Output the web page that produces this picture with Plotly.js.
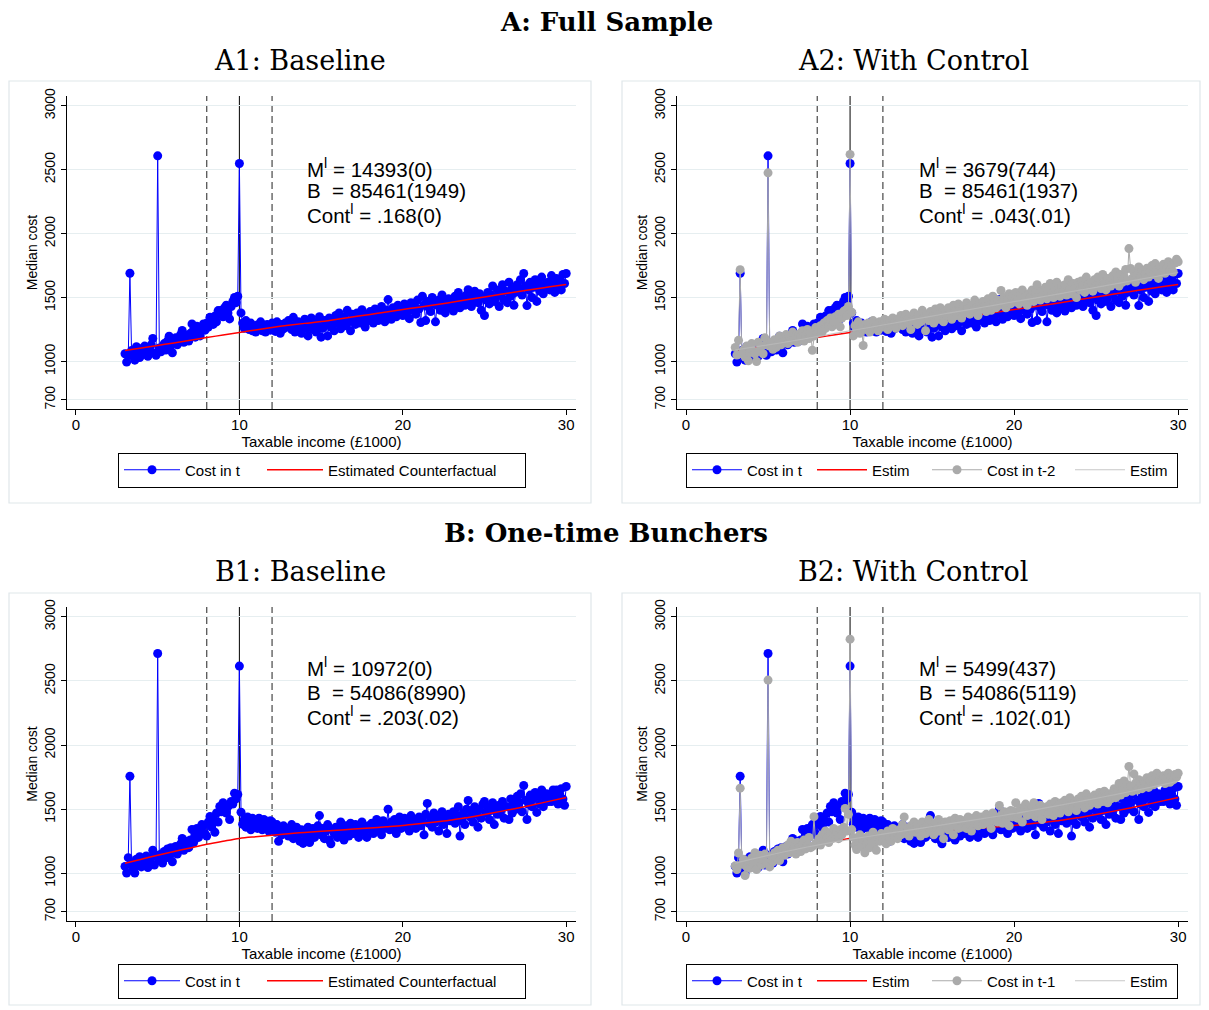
<!DOCTYPE html>
<html><head><meta charset="utf-8">
<script src="https://cdn.plot.ly/plotly-3.0.1.min.js"></script>
<style>html,body{margin:0;padding:0;background:#fff}</style>
</head><body><div id="chart" style="width:1209px;height:1010px"></div>
<script>
// Taxable income bins (£1000)
const incomeX = [
3.0,3.1,3.2,3.3,3.4,3.5,3.6,3.7,3.8,3.9,
4.0,4.1,4.2,4.3,4.4,4.5,4.6,4.7,4.8,4.9,
5.0,5.1,5.2,5.3,5.4,5.5,5.6,5.7,5.8,5.9,
6.0,6.1,6.2,6.3,6.4,6.5,6.6,6.7,6.8,6.9,
7.0,7.1,7.2,7.3,7.4,7.5,7.6,7.7,7.8,7.9,
8.0,8.1,8.2,8.3,8.4,8.5,8.6,8.7,8.8,8.9,
9.0,9.1,9.2,9.3,9.4,9.5,9.6,9.7,9.8,9.9,
10.0,10.1,10.2,10.3,10.4,10.5,10.6,10.7,10.8,10.9,
11.0,11.1,11.2,11.3,11.4,11.5,11.6,11.7,11.8,11.9,
12.0,12.1,12.2,12.3,12.4,12.5,12.6,12.7,12.8,12.9,
13.0,13.1,13.2,13.3,13.4,13.5,13.6,13.7,13.8,13.9,
14.0,14.1,14.2,14.3,14.4,14.5,14.6,14.7,14.8,14.9,
15.0,15.1,15.2,15.3,15.4,15.5,15.6,15.7,15.8,15.9,
16.0,16.1,16.2,16.3,16.4,16.5,16.6,16.7,16.8,16.9,
17.0,17.1,17.2,17.3,17.4,17.5,17.6,17.7,17.8,17.9,
18.0,18.1,18.2,18.3,18.4,18.5,18.6,18.7,18.8,18.9,
19.0,19.1,19.2,19.3,19.4,19.5,19.6,19.7,19.8,19.9,
20.0,20.1,20.2,20.3,20.4,20.5,20.6,20.7,20.8,20.9,
21.0,21.1,21.2,21.3,21.4,21.5,21.6,21.7,21.8,21.9,
22.0,22.1,22.2,22.3,22.4,22.5,22.6,22.7,22.8,22.9,
23.0,23.1,23.2,23.3,23.4,23.5,23.6,23.7,23.8,23.9,
24.0,24.1,24.2,24.3,24.4,24.5,24.6,24.7,24.8,24.9,
25.0,25.1,25.2,25.3,25.4,25.5,25.6,25.7,25.8,25.9,
26.0,26.1,26.2,26.3,26.4,26.5,26.6,26.7,26.8,26.9,
27.0,27.1,27.2,27.3,27.4,27.5,27.6,27.7,27.8,27.9,
28.0,28.1,28.2,28.3,28.4,28.5,28.6,28.7,28.8,28.9,
29.0,29.1,29.2,29.3,29.4,29.5,29.6,29.7,29.8,29.9,
30.0];

// Panel A (full sample): median cost in t
const costA_t = [
1060,995,1050,1690,1085,1040,1010,1115,1070,1030,
1100,1055,1120,1080,1040,1095,1130,1180,1065,1048,
2609,1105,1075,1112,1140,1090,1160,1198,1120,1068,
1150,1185,1130,1165,1210,1242,1150,1175,1205,1160,
1220,1294,1250,1190,1275,1230,1200,1260,1294,1245,
1300,1270,1346,1320,1290,1355,1310,1398,1380,1400,
1350,1420,1440,1380,1333,1430,1470,1500,1460,1510,
2549,1380,1300,1260,1320,1280,1250,1300,1240,1270,
1230,1285,1255,1310,1240,1275,1230,1290,1260,1245,
1300,1265,1235,1310,1280,1220,1290,1255,1300,1270,
1320,1280,1250,1345,1230,1290,1310,1260,1220,1300,
1330,1260,1200,1295,1340,1250,1305,1230,1280,1350,
1190,1260,1320,1290,1200,1340,1270,1310,1240,1360,
1300,1380,1255,1320,1350,1280,1400,1310,1240,1370,
1330,1290,1380,1350,1300,1405,1340,1270,1360,1320,
1390,1340,1300,1410,1365,1320,1380,1430,1350,1310,
1400,1484,1370,1330,1420,1390,1350,1440,1380,1410,
1360,1450,1420,1390,1335,1460,1400,1430,1370,1480,
1410,1305,1510,1440,1320,1470,1420,1390,1500,1450,
1310,1440,1480,1400,1520,1460,1380,1430,1490,1420,
1470,1395,1510,1450,1540,1420,1480,1500,1440,1520,
1562,1470,1430,1510,1550,1490,1460,1530,1400,1500,
1360,1480,1540,1450,1520,1590,1470,1500,1560,1430,
1530,1600,1480,1550,1460,1620,1510,1570,1440,1540,
1600,1560,1640,1520,1688,1590,1437,1560,1620,1500,
1580,1640,1470,1610,1550,1660,1530,1600,1570,1620,
1560,1672,1600,1540,1650,1590,1630,1560,1680,1610,
1688];

// Panel A2 control: median cost in t-2
const costA_tm2 = [
1110,1050,1165,1718,1060,1090,1035,1120,1005,1070,
1140,1080,1060,1000,1150,1090,1120,1060,1185,1130,
2476,1120,1150,1095,1170,1110,1140,1200,1130,1165,
1180,1210,1140,1195,1160,1230,1175,1200,1150,1215,
1190,1240,1160,1210,1250,1180,1225,1088,1200,1265,
1220,1250,1280,1230,1300,1260,1320,1280,1340,1271,
1310,1350,1300,1370,1271,1340,1390,1400,1360,1430,
2620,1385,1200,1280,1240,1310,1220,1260,1125,1290,
1250,1300,1230,1275,1320,1260,1290,1240,1310,1280,
1270,1330,1290,1250,1320,1280,1340,1300,1260,1330,
1310,1360,1280,1330,1370,1300,1345,1250,1320,1380,
1330,1290,1360,1310,1400,1340,1240,1370,1320,1390,
1350,1300,1410,1360,1330,1420,1380,1310,1400,1360,
1420,1370,1330,1440,1390,1360,1450,1400,1340,1430,
1380,1460,1410,1370,1440,1400,1480,1420,1360,1450,
1410,1470,1430,1390,1490,1440,1400,1510,1450,1420,
1480,1440,1555,1460,1500,1420,1490,1530,1450,1510,
1470,1540,1490,1450,1520,1560,1480,1510,1440,1530,
1500,1560,1470,1540,1600,1510,1480,1550,1520,1580,
1490,1560,1610,1530,1500,1570,1620,1540,1510,1590,
1550,1600,1520,1640,1570,1530,1610,1580,1500,1620,
1560,1630,1590,1540,1660,1600,1570,1620,1550,1640,
1590,1660,1600,1570,1680,1620,1560,1650,1610,1590,
1670,1610,1700,1640,1590,1680,1620,1660,1720,1630,
1883,1727,1650,1700,1620,1680,1740,1660,1710,1640,
1690,1730,1660,1700,1750,1680,1766,1710,1650,1740,
1700,1760,1690,1730,1780,1710,1750,1700,1770,1800,
1780];

// Panel B (one-time bunchers): median cost in t
const costB_t = [
1054,1002,1122,1757,1080,1040,1002,1110,1060,1130,
1050,1100,1075,1135,1045,1090,1120,1180,1065,1140,
2714,1100,1150,1080,1170,1120,1190,1140,1200,1090,
1160,1210,1150,1190,1230,1272,1180,1220,1250,1200,
1260,1342,1240,1300,1350,1280,1320,1380,1370,1310,
1290,1400,1444,1360,1420,1320,1470,1400,1522,1480,
1550,1500,1470,1520,1420,1560,1540,1624,1580,1615,
2616,1477,1383,1420,1360,1440,1400,1340,1430,1380,
1410,1350,1430,1390,1340,1420,1370,1400,1330,1410,
1400,1360,1320,1380,1250,1340,1300,1370,1310,1350,
1290,1340,1380,1270,1320,1360,1300,1250,1340,1233,
1330,1290,1360,1240,1310,1350,1280,1320,1370,1450,
1300,1350,1270,1330,1380,1260,1230,1340,1310,1360,
1280,1350,1400,1310,1260,1370,1330,1290,1390,1340,
1310,1380,1330,1280,1360,1400,1320,1350,1280,1370,
1340,1390,1310,1360,1420,1330,1380,1300,1410,1350,
1370,1500,1340,1400,1360,1420,1310,1390,1440,1350,
1380,1430,1360,1410,1330,1450,1390,1420,1350,1400,
1440,1370,1410,1300,1460,1545,1390,1430,1360,1470,
1400,1450,1330,1420,1480,1380,1440,1310,1460,1410,
1430,1480,1390,1450,1520,1290,1410,1470,1380,1500,
1568,1440,1490,1400,1520,1460,1360,1500,1430,1540,
1560,1470,1520,1420,1490,1550,1380,1500,1460,1530,
1490,1560,1430,1520,1520,1420,1580,1470,1540,1500,
1600,1550,1620,1480,1685,1570,1420,1540,1610,1520,
1580,1630,1475,1600,1540,1650,1520,1590,1620,1560,
1610,1560,1650,1590,1650,1540,1620,1660,1580,1530,
1677];

// Panel B2 control: median cost in t-1
const costB_tm1 = [
1058,1030,1158,1664,1070,1110,983,1050,1090,1040,
1120,1070,1160,1030,1100,1140,1065,1110,1150,1080,
2507,1050,1130,1090,1160,1120,1180,1100,1150,1200,
1140,1190,1220,1160,1250,1180,1210,1150,1240,1200,
1170,1230,1260,1190,1220,1280,1200,1210,1442,1230,
1240,1270,1220,1300,1260,1330,1280,1240,1310,1270,
1350,1290,1320,1270,1340,1300,1360,1506,1330,1460,
2826,1341,1280,1220,1185,1250,1300,1210,1260,1160,
1230,1290,1200,1270,1320,1240,1180,1280,1250,1310,
1260,1300,1230,1330,1280,1250,1350,1290,1320,1270,
1340,1300,1380,1440,1310,1350,1290,1370,1330,1400,
1320,1380,1340,1290,1400,1350,1310,1370,1420,1330,
1360,1300,1390,1350,1420,1330,1380,1270,1400,1360,
1340,1410,1370,1300,1430,1380,1350,1420,1360,1390,
1410,1350,1440,1380,1330,1430,1390,1450,1370,1400,
1440,1380,1420,1460,1390,1430,1350,1470,1410,1440,
1400,1529,1450,1390,1480,1420,1460,1370,1490,1440,
1480,1550,1430,1470,1510,1400,1490,1540,1450,1500,
1460,1520,1550,1440,1500,1470,1530,1420,1510,1480,
1520,1460,1540,1500,1450,1560,1490,1530,1470,1550,
1500,1570,1520,1480,1590,1540,1510,1560,1490,1580,
1540,1600,1560,1510,1620,1570,1530,1590,1550,1610,
1580,1540,1630,1590,1560,1640,1600,1550,1620,1580,
1620,1660,1590,1640,1700,1610,1650,1720,1630,1690,
1833,1680,1640,1775,1700,1650,1730,1690,1660,1720,
1700,1745,1670,1720,1760,1690,1730,1780,1710,1750,
1720,1760,1700,1740,1780,1710,1760,1730,1770,1750,
1780];

// Estimated counterfactuals (at integer income values)
const estX = [3,4,5,6,7,8,9,10,11,12,13,14,15,16,17,18,19,20,21,22,23,24,25,26,27,28,29,30];
const estA = [1086,1105,1125,1145,1166,1187,1207,1227,1247,1266,1283,1298,1312,1330,1350,1368,1387,1406,1425,1444,1463,1484,1505,1525,1545,1565,1584,1602];
const estA_ctrl = [1090,1110,1130,1150,1172,1195,1218,1240,1262,1285,1308,1332,1355,1378,1400,1422,1445,1468,1490,1512,1535,1558,1580,1603,1626,1650,1673,1696];
const estB = [1078,1110,1140,1170,1198,1226,1250,1272,1285,1296,1308,1319,1328,1336,1345,1354,1363,1373,1386,1400,1415,1436,1459,1483,1508,1535,1563,1591];
const estB_ctrl = [1080,1110,1140,1168,1195,1220,1243,1265,1285,1305,1325,1345,1365,1385,1405,1425,1445,1465,1488,1512,1536,1560,1585,1610,1636,1662,1690,1718];

// Bunching window and kink
const windowLines = [8, 12];
const kinkLine = [10];

const xTicks = [0, 10, 20, 30];
const yTicks = [700, 1000, 1500, 2000, 2500, 3000];

const statsA1 = ['M<sup>l</sup> = 14393(0)', 'B\u00a0 = 85461(1949)', 'Cont<sup>l</sup> = .168(0)'];
const statsA2 = ['M<sup>l</sup> = 3679(744)', 'B\u00a0 = 85461(1937)', 'Cont<sup>l</sup> = .043(.01)'];
const statsB1 = ['M<sup>l</sup> = 10972(0)', 'B\u00a0 = 54086(8990)', 'Cont<sup>l</sup> = .203(.02)'];
const statsB2 = ['M<sup>l</sup> = 5499(437)', 'B\u00a0 = 54086(5119)', 'Cont<sup>l</sup> = .102(.01)'];

const W = 1209, H = 1010;
const SANS = 'Liberation Sans, Arial, sans-serif';
const SERIF = 'DejaVu Serif, serif';
const BLUE = '#0000ff', RED = '#ff0000', GRAY = '#aaaaaa';

function costTrace(y, name, xa, ya, leg, color, lw) {
  return {x: incomeX, y: y, type: 'scatter', mode: 'lines+markers', name: name,
    xaxis: xa, yaxis: ya, legend: leg, legendwidth: lw,
    line: {color: color, width: 1}, marker: {color: color, size: 9},
    hoverinfo: 'skip'};
}
function estTrace(y, name, xa, ya, leg, color, lw, width) {
  return {x: estX, y: y, type: 'scatter', mode: 'lines', name: name,
    xaxis: xa, yaxis: ya, legend: leg, legendwidth: lw,
    line: {color: color, width: width, shape: 'spline'}, hoverinfo: 'skip'};
}

const traces = [
  costTrace(costA_t, 'Cost in t', 'x', 'y', 'legend', BLUE, 72),
  estTrace(estA, 'Estimated Counterfactual', 'x', 'y', 'legend', RED, 192, 1.5),

  costTrace(costA_t, 'Cost in t', 'x2', 'y2', 'legend2', BLUE, 60),
  estTrace(estA, 'Estim', 'x2', 'y2', 'legend2', RED, 50, 1.5),
  costTrace(costA_tm2, 'Cost in t-2', 'x2', 'y2', 'legend2', GRAY, 78),
  estTrace(estA_ctrl, 'Estim', 'x2', 'y2', 'legend2', 'rgba(185,185,185,0.8)', 42, 1.2),

  costTrace(costB_t, 'Cost in t', 'x3', 'y3', 'legend3', BLUE, 72),
  estTrace(estB, 'Estimated Counterfactual', 'x3', 'y3', 'legend3', RED, 192, 1.5),

  costTrace(costB_t, 'Cost in t', 'x4', 'y4', 'legend4', BLUE, 60),
  estTrace(estB, 'Estim', 'x4', 'y4', 'legend4', RED, 50, 1.5),
  costTrace(costB_tm1, 'Cost in t-1', 'x4', 'y4', 'legend4', GRAY, 78),
  estTrace(estB_ctrl, 'Estim', 'x4', 'y4', 'legend4', 'rgba(185,185,185,0.8)', 42, 1.2)
];

const px = v => v / W;
const py = v => 1 - v / H;

function xAxis(d0, d1, anchor) {
  return {domain: [px(d0), px(d1)], anchor: anchor, range: [-0.55, 30.6],
    tickvals: xTicks, ticks: 'outside', ticklen: 5, tickcolor: '#000', ticklabelstandoff: -3,
    showline: true, linecolor: '#000', linewidth: 1, showgrid: false, zeroline: false,
    tickfont: {family: SANS, size: 15, color: '#000'},
    title: {text: 'Taxable income (£1000)', font: {family: SANS, size: 15, color: '#000'}, standoff: 1}};
}
function yAxis(t, b, anchor) {
  return {domain: [py(b), py(t)], anchor: anchor, range: [628, 3077],
    tickvals: yTicks, tickangle: -90, ticks: 'outside', ticklen: 5, tickcolor: '#000',
    showline: true, linecolor: '#000', linewidth: 1, showgrid: true, gridcolor: '#e6eef0', gridwidth: 1,
    zeroline: false,
    tickfont: {family: SANS, size: 14, color: '#000'},
    title: {text: 'Median cost', font: {family: SANS, size: 14, color: '#000'}, standoff: 1}};
}
function legendCfg(cx, cy, iw) {
  return {x: px(cx), y: py(cy), xanchor: 'center', yanchor: 'middle', orientation: 'h',
    bgcolor: '#fff', bordercolor: '#000', borderwidth: 1, itemwidth: iw,
    font: {family: SANS, size: 15, color: '#000'}, traceorder: 'normal'};
}

const shapes = [];
// Panel frames
[[9, 81, 591, 503], [622, 81, 1200, 503], [9, 593, 591, 1005], [622, 593, 1200, 1005]].forEach(r => {
  shapes.push({type: 'rect', xref: 'paper', yref: 'paper', x0: px(r[0]), x1: px(r[2]), y0: py(r[3]), y1: py(r[1]),
    line: {color: '#dfe7ea', width: 1.2}, fillcolor: 'rgba(0,0,0,0)', layer: 'below'});
});
[['x', 'y'], ['x2', 'y2'], ['x3', 'y3'], ['x4', 'y4']].forEach(p => {
  windowLines.forEach(v => shapes.push({type: 'line', xref: p[0], yref: p[1] + ' domain', x0: v, x1: v, y0: 0, y1: 1,
    line: {color: '#555', width: 1.3, dash: '7px,4px'}, layer: 'below'}));
  kinkLine.forEach(v => shapes.push({type: 'line', xref: p[0], yref: p[1] + ' domain', x0: v, x1: v, y0: 0, y1: 1,
    line: {color: '#000', width: 1}, layer: 'below'}));
});

const annotations = [];
function addText(text, x, y, size, family, xanchor) {
  annotations.push({text: text, xref: 'paper', yref: 'paper', x: px(x), y: py(y), xanchor: xanchor || 'center',
    yanchor: 'middle', showarrow: false, font: {family: family, size: size, color: '#000'}});
}
addText('<b>A: Full Sample</b>', 606, 22, 26, SERIF);
addText('A1: Baseline', 300, 60, 27, SERIF);
addText('A2: With Control', 913, 60, 27, SERIF);
addText('<b>B: One-time Bunchers</b>', 606, 533, 26, SERIF);
addText('B1: Baseline', 300, 571, 27, SERIF);
addText('B2: With Control', 913, 571, 27, SERIF);
const rowsA = [168, 191, 214], rowsB = [667, 692, 716];
statsA1.forEach((s, i) => addText(s, 305, rowsA[i], 20.5, SANS, 'left'));
statsA2.forEach((s, i) => addText(s, 917, rowsA[i], 20.5, SANS, 'left'));
statsB1.forEach((s, i) => addText(s, 305, rowsB[i], 20.5, SANS, 'left'));
statsB2.forEach((s, i) => addText(s, 917, rowsB[i], 20.5, SANS, 'left'));

const layout = {
  width: W, height: H, margin: {l: 0, r: 0, t: 0, b: 0},
  paper_bgcolor: '#fff', plot_bgcolor: '#fff', showlegend: true,
  xaxis: xAxis(67, 576, 'y'), yaxis: yAxis(96, 409, 'x'),
  xaxis2: xAxis(677, 1188, 'y2'), yaxis2: yAxis(96, 409, 'x2'),
  xaxis3: xAxis(67, 576, 'y3'), yaxis3: yAxis(607, 921, 'x3'),
  xaxis4: xAxis(677, 1188, 'y4'), yaxis4: yAxis(607, 921, 'x4'),
  legend: legendCfg(322, 470, 56),
  legend2: legendCfg(932, 470, 50),
  legend3: legendCfg(322, 981, 56),
  legend4: legendCfg(932, 981, 50),
  shapes: shapes, annotations: annotations
};

Plotly.newPlot('chart', traces, layout, {staticPlot: true, displayModeBar: false});
</script></body></html>
